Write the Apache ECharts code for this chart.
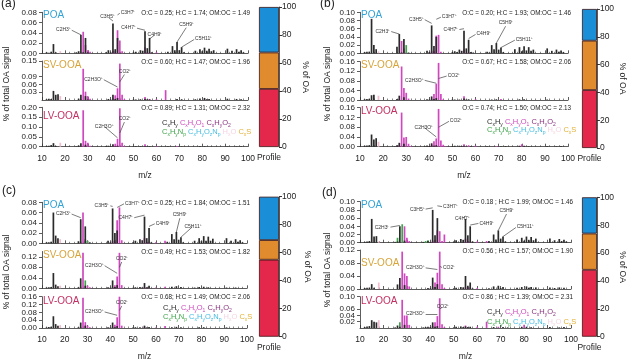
<!DOCTYPE html>
<html>
<head>
<meta charset="utf-8">
<script src="https://cdn.jsdelivr.net/npm/echarts@6/dist/echarts.min.js"></script>
<style>
  html, body { margin: 0; padding: 0; background: #fff; }
  #chart { width: 628px; height: 362px; }
</style>
</head>
<body>
<div id="chart"></div>
<script>
// spectra rows: [m/z, CxHy, CxHyO, CxHyNp, HxO]
const aPOA = [[12,.002,0,0,0],[13,.001,0,0,0],[14,.003,0,0,0],[15,.018,0,0,0],[16,.002,0,0,0],[18,0,0,0,.004],[25,.002,0,0,0],[26,.004,0,0,0],[27,.036,.002,0,0],[28,.002,.042,0,0],[29,.03,.016,0,0],[30,.002,.006,0,0],[31,0,.003,0,0],[38,.002,0,0,0],[39,.006,0,0,0],[40,.002,0,0,0],[41,.058,.005,0,0],[42,.008,.004,0,0],[43,.03,.045,0,0],[44,.001,.025,0,0],[45,0,.004,0,0],[50,.002,0,0,0],[51,.003,0,0,0],[53,.006,0,0,0],[54,.005,0,0,0],[55,.043,.012,0,0],[56,.01,.002,0,0],[57,.03,.003,0,0],[58,.002,0,0,0],[60,0,.002,0,0],[65,.003,0,0,0],[67,.014,0,0,0],[68,.006,0,0,0],[69,.022,0,0,0],[70,.006,0,0,0],[71,.012,0,0,0],[72,.002,0,0,0],[77,.005,0,0,0],[79,.008,0,0,0],[80,.004,0,0,0],[81,.011,0,0,0],[82,.005,0,0,0],[83,.009,0,0,0],[84,.004,0,0,0],[85,.006,0,0,0],[91,.009,0,0,0],[93,.005,0,0,0],[95,.008,0,0,0],[96,.003,0,0,0],[97,.006,0,0,0],[98,.002,0,0,0]];
const aSV = [[12,.003,0,0,0],[13,.005,0,0,0],[14,.004,0,0,0],[15,.035,0,0,0],[16,.02,0,0,0],[17,.022,0,0,0],[18,0,0,0,.015],[26,.005,0,0,0],[27,.02,.003,0,0],[28,0,.12,0,0],[29,.015,.032,0,0],[30,.002,.015,0,0],[31,0,.005,0,0],[39,.004,0,0,0],[40,.002,0,0,0],[41,.02,.006,0,0],[42,.004,.018,0,0],[43,.008,.045,0,0],[44,0,.14,0,0],[45,0,.02,0,0],[46,0,.003,0,0],[50,.002,0,0,0],[51,.002,0,0,0],[53,.003,0,0,0],[55,.005,.012,0,0],[56,.003,0,0,0],[57,.002,.004,0,0],[60,0,.003,0,0],[64,0,.038,0,0],[69,.004,0,0,0],[71,.003,0,0,0],[77,.003,0,0,0],[79,.006,0,0,0],[81,.008,.003,0,0],[82,.003,0,0,0],[83,.004,0,0,0],[91,.005,0,0,0],[95,.004,0,0,0],[97,.003,0,0,0]];
const aLV = [[12,.004,0,0,0],[13,.005,0,0,0],[14,.008,0,0,0],[15,.018,0,0,0],[16,.004,0,0,0],[18,0,0,0,.02],[25,.002,0,0,0],[26,.006,0,0,0],[27,.018,.004,0,0],[28,0,.185,0,0],[29,.01,.03,0,0],[30,0,.02,0,0],[31,0,.005,0,0],[38,.003,0,0,0],[39,.005,0,0,0],[40,.003,0,0,0],[41,.012,.005,0,0],[42,.003,.015,0,0],[43,.005,.04,0,0],[44,0,.195,0,0],[45,0,.02,0,0],[46,0,.003,0,0],[50,.002,0,0,0],[51,.003,0,0,0],[53,.003,0,0,0],[55,.003,.012,0,0],[56,.002,0,0,0],[57,.003,0,0,0],[60,0,.003,0,0],[65,.002,0,0,0],[69,0,.004,0,0],[71,.002,0,0,0],[79,.003,0,0,0],[81,.003,0,0,0],[91,.002,0,0,0],[95,.002,0,0,0],[97,.002,0,0,0]];

const bPOA = [[12,.003,0,0,0],[13,.004,0,0,0],[14,.004,0,0,0],[15,.084,0,0,0],[16,.02,0,0,0],[17,.01,0,0,0],[18,0,0,0,.004],[26,.016,0,0,0],[27,.047,0,0,0],[28,.002,.03,0,0],[29,.035,.012,0,0],[30,0,.002,.02,0],[31,.002,0,0,0],[39,.006,0,0,0],[40,.003,0,0,0],[41,.068,.005,0,0],[42,.018,.005,0,0],[43,.04,.043,0,0],[44,0,.045,0,0],[45,0,.004,0,0],[50,.003,0,0,0],[51,.005,0,0,0],[52,.003,0,0,0],[53,.009,0,0,0],[54,.006,0,0,0],[55,.055,.01,0,0],[56,.012,0,0,0],[57,.033,.003,0,0],[58,.003,0,0,0],[59,.002,0,0,0],[65,.004,0,0,0],[66,.002,0,0,0],[67,.02,0,0,0],[68,.01,0,0,0],[69,.025,0,0,0],[70,.009,0,0,0],[71,.014,0,0,0],[72,.003,0,0,0],[77,.01,0,0,0],[79,.015,0,0,0],[80,.005,0,0,0],[81,.017,0,0,0],[82,.007,0,0,0],[83,.015,0,0,0],[84,.006,0,0,0],[85,.009,0,0,0],[91,.012,0,0,0],[93,.006,0,0,0],[95,.009,0,0,0],[96,.004,0,0,0],[97,.007,0,0,0],[98,.003,0,0,0]];
const bSV = [[12,.003,0,0,0],[13,.004,0,0,0],[14,.005,0,0,0],[15,.02,0,0,0],[16,.022,0,0,0],[18,0,0,0,.018],[26,.004,0,0,0],[27,.018,.004,0,0],[28,0,.14,0,0],[29,.012,.05,0,0],[30,0,.03,0,0],[31,0,.006,0,0],[39,.003,0,0,0],[40,.002,0,0,0],[41,.015,.004,0,0],[42,.004,.025,0,0],[43,.008,.068,0,0],[44,0,.155,0,0],[45,0,.025,0,0],[46,0,.003,0,0],[50,.002,0,0,0],[51,.002,0,0,0],[53,.002,0,0,0],[55,.006,.016,0,0],[56,.002,0,0,0],[57,.003,0,0,0],[60,0,.003,0,0],[67,.002,0,0,0],[69,.003,0,0,0],[71,0,.004,0,0],[79,.003,0,0,0],[81,.003,0,0,0],[91,.002,0,0,0]];
const bLV = [[12,.004,0,0,0],[13,.005,0,0,0],[14,.006,0,0,0],[15,.05,0,0,0],[16,.03,0,0,0],[17,.035,0,0,0],[18,0,0,0,.02],[25,.002,0,0,0],[26,.006,0,0,0],[27,.016,.006,0,0],[28,0,.14,0,0],[29,.012,.038,0,0],[30,0,.04,0,0],[31,0,.012,0,0],[32,0,.003,0,0],[38,.002,0,0,0],[39,.005,0,0,0],[40,.003,0,0,0],[41,.014,.008,0,0],[42,.004,.022,0,0],[43,.006,.034,0,0],[44,0,.155,0,0],[45,0,.025,0,0],[46,0,.008,0,0],[47,0,.002,0,0],[50,.003,0,0,0],[51,.004,0,0,0],[53,.004,0,0,0],[54,.002,0,0,0],[55,.004,.01,0,0],[57,0,.006,0,0],[58,.002,0,0,0],[60,0,.004,0,0],[65,.002,0,0,0],[69,0,.003,0,0],[71,.002,0,0,0],[73,.003,0,0,0],[79,.004,0,0,0],[80,0,.01,0,0],[81,.004,0,0,0],[83,.002,0,0,0],[91,.003,0,0,0],[95,.002,0,0,0],[97,.003,0,0,0]];

const cPOA = [[12,.002,0,0,0],[13,.002,0,0,0],[14,.003,0,0,0],[15,.06,0,0,0],[16,.015,0,0,0],[17,.01,0,0,0],[18,0,0,0,.008],[26,.004,0,0,0],[27,.047,.003,0,0],[28,0,.06,0,0],[29,.033,.008,.004,0],[30,0,.004,.005,0],[31,.002,0,0,0],[39,.005,0,0,0],[40,.002,0,0,0],[41,.068,.004,0,0],[42,.02,.006,0,0],[43,.025,.045,0,0],[44,0,.07,0,0],[45,0,.006,0,0],[50,.002,0,0,0],[51,.005,0,0,0],[53,.008,0,0,0],[54,.006,0,0,0],[55,.052,.01,0,0],[56,.01,.002,0,0],[57,.03,.003,0,0],[58,.002,0,0,0],[60,0,.002,0,0],[64,0,.005,0,0],[65,.003,0,0,0],[67,.018,0,0,0],[68,.008,0,0,0],[69,.022,0,0,0],[70,.007,0,0,0],[71,.012,0,0,0],[72,.002,0,0,0],[77,.005,0,0,0],[79,.01,0,0,0],[80,.004,0,0,0],[81,.014,0,0,0],[82,.005,0,0,0],[83,.013,0,0,0],[84,.005,0,0,0],[85,.009,0,0,0],[91,.01,0,0,0],[93,.005,0,0,0],[95,.008,0,0,0],[96,.003,0,0,0],[97,.006,0,0,0],[98,.002,0,0,0]];
const cSV = [[12,.003,0,0,0],[13,.004,0,0,0],[14,.005,0,0,0],[15,.058,0,0,0],[16,.014,0,0,0],[17,.008,0,0,0],[18,0,0,0,.01],[26,.004,0,0,0],[27,.038,.004,0,0],[28,0,.135,0,0],[29,.01,0,.03,0],[30,0,.01,0,0],[31,0,.004,0,0],[39,.004,0,0,0],[40,.002,0,0,0],[41,.03,.005,0,0],[42,.005,.012,0,0],[43,.012,.045,0,0],[44,0,.135,0,0],[45,0,.012,0,0],[50,.002,0,0,0],[51,.004,0,0,0],[53,.005,0,0,0],[54,.003,0,0,0],[55,.02,.005,0,0],[56,.004,0,0,0],[57,.01,.004,0,0],[60,0,.003,0,0],[64,0,.006,0,0],[67,.006,0,0,0],[69,.008,0,0,0],[71,.005,0,0,0],[77,.003,0,0,0],[79,.005,0,0,0],[81,.006,0,0,0],[83,.004,0,0,0],[91,.003,0,0,0],[95,.003,0,0,0]];
const cLV = [[12,.003,0,0,0],[13,.005,0,0,0],[14,.006,0,0,0],[15,.06,0,0,0],[16,.02,0,0,0],[17,.012,0,0,0],[18,0,0,0,.015],[26,.004,0,0,0],[27,.028,.004,0,0],[28,0,.155,0,0],[29,.012,.03,0,0],[30,0,.012,0,0],[31,0,.004,0,0],[39,.004,0,0,0],[40,.002,0,0,0],[41,.028,.006,0,0],[42,.004,.016,0,0],[43,.01,.055,0,0],[44,0,.16,0,0],[45,0,.012,0,0],[50,.002,0,0,0],[51,.004,0,0,0],[53,.004,0,0,0],[55,.012,.006,0,0],[56,.003,0,0,0],[57,.005,0,0,0],[60,0,.003,0,0],[64,0,.01,0,0],[67,.004,0,0,0],[69,.006,0,0,0],[71,.004,0,0,0],[79,.004,0,0,0],[81,.004,0,0,0],[91,.003,0,0,0]];

const dPOA = [[12,.002,0,0,0],[13,.003,0,0,0],[14,.004,0,0,0],[15,.058,0,0,0],[16,.015,0,0,0],[17,.016,0,0,0],[18,0,0,0,.003],[25,.002,0,0,0],[26,.003,0,.012,0],[27,.04,.002,0,0],[28,0,0,.045,0],[29,.005,.04,0,0],[30,0,.012,0,0],[31,0,.004,0,0],[37,.002,0,0,0],[38,0,0,.004,0],[39,.004,0,.006,0],[40,.002,0,0,0],[41,.08,.005,0,0],[42,.018,.007,0,0],[43,.06,.03,0,0],[44,0,.028,0,0],[45,0,.004,0,0],[46,0,.02,0,0],[50,.003,0,0,0],[51,.006,0,0,0],[53,.009,0,0,0],[54,.007,0,0,0],[55,.058,.01,0,0],[56,.018,.002,0,0],[57,.04,.003,0,0],[58,.003,0,0,0],[60,0,.003,0,0],[64,0,.004,0,0],[65,.004,0,0,0],[67,.02,0,0,0],[68,.008,0,0,0],[69,.03,0,0,0],[70,.01,0,0,0],[71,.015,0,0,0],[72,.003,0,0,0],[77,.008,0,0,0],[79,.012,0,0,0],[80,.005,0,0,0],[81,.015,0,0,0],[82,.007,0,0,0],[83,.014,0,0,0],[84,.006,0,0,0],[85,.01,0,0,0],[91,.01,0,0,0],[93,.006,0,0,0],[95,.009,0,0,0],[96,.004,0,0,0],[97,.007,0,0,0],[98,.003,0,0,0]];
const dSV = [[12,.003,0,0,0],[13,.004,0,0,0],[14,.004,0,0,0],[15,.015,0,0,0],[16,.004,0,0,0],[18,0,0,0,.02],[26,.014,0,0,0],[27,.034,.004,0,0],[28,0,.115,0,0],[29,.012,.048,0,0],[30,0,.04,0,0],[31,0,.008,0,0],[39,.003,0,0,0],[40,.002,0,0,0],[41,.035,.005,0,0],[42,.006,.02,0,0],[43,.015,.05,0,0],[44,0,.115,0,0],[45,0,.015,0,0],[46,0,.003,0,0],[50,.002,0,0,0],[51,.004,0,0,0],[53,.006,0,0,0],[54,.005,0,0,0],[55,.04,.005,0,0],[56,.01,.005,0,0],[57,.02,.005,0,0],[58,.002,0,0,0],[60,0,.003,0,0],[65,.002,0,0,0],[67,.008,0,0,0],[69,.01,0,0,0],[70,.003,0,0,0],[71,.006,0,0,0],[77,.004,0,0,0],[79,.006,0,0,0],[81,.008,0,0,0],[82,.004,0,0,0],[83,.006,0,0,0],[85,.005,0,0,0],[91,.005,0,0,0],[93,.003,0,0,0],[95,.005,0,0,0],[97,.004,0,0,0]];
const dLV = [[12,.003,0,0,0],[13,.005,0,0,0],[14,.006,0,0,0],[15,.025,0,0,0],[16,.02,0,0,0],[17,.018,0,0,0],[18,0,0,0,.025],[25,.002,0,0,0],[26,.008,0,0,0],[27,.004,0,.018,0],[28,0,.09,0,0],[29,.01,.04,0,0],[30,0,.04,0,0],[31,0,.01,0,0],[37,.002,0,0,0],[38,.003,0,0,0],[39,.004,0,0,0],[40,.003,0,0,0],[41,.018,.006,0,0],[42,.004,.018,0,0],[43,.006,.038,0,0],[44,0,.095,0,0],[45,0,.012,0,0],[46,0,.003,0,0],[50,.002,0,0,0],[51,.004,0,0,0],[53,.005,0,0,0],[54,.003,0,0,0],[55,.005,.008,0,0],[56,.003,0,0,0],[57,.004,0,0,0],[60,0,.004,0,0],[64,0,.02,0,0],[67,.003,0,0,0],[69,0,.004,0,0],[71,.003,0,0,0],[73,.002,0,0,0],[79,.004,0,0,0],[80,0,.01,0,0],[81,.004,0,0,0],[83,.002,0,0,0],[91,.003,0,0,0],[95,.002,0,0,0],[97,.003,0,0,0]];

// y-axis range per factor (POA, SV-OOA, LV-OOA)
const aMax = [0.08, 0.15, 0.20], aStep = [0.02, 0.03, 0.05];
const bMax = [0.10, 0.16, 0.16], bStep = [0.02, 0.04, 0.04];
const cMax = [0.08, 0.14, 0.16], cStep = [0.02, 0.04, 0.04];
const dMax = [0.10, 0.12, 0.10], dStep = [0.02, 0.04, 0.02];

const aRatios = ['O:C = 0.25; H:C = 1.74; OM:OC = 1.49', 'O:C = 0.60; H:C = 1.47; OM:OC = 1.96', 'O:C = 0.89; H:C = 1.31; OM:OC = 2.32'];
const bRatios = ['O:C = 0.20; H:C = 1.93; OM:OC = 1.46', 'O:C = 0.67; H:C = 1.58; OM:OC = 2.06', 'O:C = 0.74; H:C = 1.50; OM:OC = 2.13'];
const cRatios = ['O:C = 0.25; H:C = 1.84; OM:OC = 1.51', 'O:C = 0.49; H:C = 1.53; OM:OC = 1.82', 'O:C = 0.68; H:C = 1.49; OM:OC = 2.06'];
const dRatios = ['O:C = 0.18 ; H:C = 1.99; OM:OC = 1.46', 'O:C = 0.56 ; H:C = 1.57; OM:OC = 1.90', 'O:C = 0.86 ; H:C = 1.39; OM:OC = 2.31'];

// % of OA, stacked from bottom: LV-OOA, SV-OOA, POA
const aProfile = [41.5, 26, 32.5];
const bProfile = [41.7, 35.5, 22.8];
const cProfile = [55, 14, 31];
const dProfile = [48, 26, 26];

// ion labels: [ion, m/z of bar, height at bar, m/z at label, height at label]
const aPoaIons = [['C2H3⁺',27,.036,23,.045],['C3H5⁺',41,.063,39,.07],['C3H7⁺',43,.075,44,.078],['C4H7⁺',55,.045,51.5,.049],['C4H9⁺',57,.028,59,.035],['C5H9⁺',69,.022,73,.05],['C5H11⁺',71,.012,76.5,.027]];
const aSvIons = [['C2H3O⁺',43,.05,37,.078],['CO2⁺',44,.07,46,.098]];
const aLvIons = [['C2H3O⁺',43,.045,37.5,.1],['CO2⁺',44,.07,46,.125]];
const bPoaIons = [['C2H3⁺',27,.047,23.5,.053],['C3H5⁺',41,.073,38,.082],['C3H7⁺',43,.083,45,.088],['C4H7⁺',55,.06,53,.058],['C4H9⁺',57,.036,60,.046],['C5H9⁺',69,.025,73,.066],['C5H11⁺',71,.014,77,.032]];
const bSvIons = [['C2H3O⁺',43,.07,38,.082],['CO2⁺',44,.09,47.5,.1]];
const bLvIons = [['C2H3O⁺',43,.04,38,.077],['CO2⁺',44,.08,48.5,.104]];
const cPoaIons = [['C2H3⁺',27,.05,23,.057],['C3H5⁺',41,.072,40,.073],['C3H7⁺',43,.07,46,.077],['C4H7⁺',55,.055,50.5,.05],['C4H9⁺',57,.033,59.5,.038],['C5H9⁺',69,.022,70.5,.049],['C5H11⁺',71,.012,76,.032]];
const cSvIons = [['C2H3O⁺',43,.057,37.5,.086],['CO2⁺',44,.08,45,.1]];
const cLvIons = [['C2H3O⁺',43,.065,37.5,.082],['CO2⁺',44,.09,45,.112]];
const dPoaIons = [['C2H3⁺',27,.042,23,.038],['C3H5⁺',41,.085,38,.082],['C3H7⁺',43,.09,45,.088],['C4H7⁺',55,.065,54,.06],['C4H9⁺',57,.043,60.5,.047],['C5H9⁺',69,.03,72.5,.07],['C5H11⁺',71,.015,76.5,.037]];
const dSvIons = [['C2H3O⁺',43,.06,38,.065],['CO2⁺',44,.07,45,.066]];
const dLvIons = [['C2H3O⁺',43,.044,38,.045],['CO2⁺',44,.06,45,.066]];

const factorNames = ['POA', 'SV-OOA', 'LV-OOA'];
const factorColors = ['#34a3d6', '#d8a43a', '#c42f63'];
const profileColors = ['#e4284b', '#e08b2d', '#1a8fd8'];
const FONT = 'Liberation Sans, Arial, Helvetica, sans-serif';

// stacking order bottom -> top: HxO, CxHyO, CxHyNp, CxHy
const families = [
  { col: 4, color: '#f2bdd0' },
  { col: 2, color: '#cf48be' },
  { col: 3, color: '#3ea54a' },
  { col: 1, color: '#2a2a2a' }
];

const panels = [
  { tag: '(a)', data: [aPOA, aSV, aLV], max: aMax, step: aStep, ratios: aRatios, profile: aProfile, ions: [aPoaIons, aSvIons, aLvIons] },
  { tag: '(b)', data: [bPOA, bSV, bLV], max: bMax, step: bStep, ratios: bRatios, profile: bProfile, ions: [bPoaIons, bSvIons, bLvIons] },
  { tag: '(c)', data: [cPOA, cSV, cLV], max: cMax, step: cStep, ratios: cRatios, profile: cProfile, ions: [cPoaIons, cSvIons, cLvIons] },
  { tag: '(d)', data: [dPOA, dSV, dLV], max: dMax, step: dStep, ratios: dRatios, profile: dProfile, ions: [dPoaIons, dSvIons, dLvIons] }
];

// pixel layout of each panel
const layout = [
  { x0: 42, x1: 248, rows: [[12.3, 53.3], [61, 100], [107.3, 146.7]], prof: [259, 7, 20, 140], tag: [1, 4], ylab: [7, 84], legend: [162, 123, 132], nameDy: [3, 4, 9], ratioX: 250, profGap: 22 },
  { x0: 360, x1: 568, rows: [[12.3, 53.3], [61.7, 100], [107.7, 146.7]], prof: [582, 9, 18, 139], tag: [320, 4], ylab: [328, 84], legend: [487, 122, 130], nameDy: [3, 4, 4], ratioX: 571, profGap: 20 },
  { x0: 42, x1: 247, rows: [[202.3, 243.3], [251.5, 288.3], [296.7, 335.7]], prof: [259, 196.7, 20, 140], tag: [2, 191], ylab: [7, 272], legend: [163, 308, 317], nameDy: [3, 4, 5], ratioX: 250, profGap: 24 },
  { x0: 360, x1: 571, rows: [[201.7, 242.7], [250, 289], [296.7, 336]], prof: [582, 197.3, 20, 139.4], tag: [322, 193], ylab: [328, 270], legend: [487, 312, 322], nameDy: [4, 13, 5], ratioX: 573, profGap: 18 }
];

function chem(parts) {
  return parts.map(function (p) {
    var f = p[0], k = p[1], out = '';
    for (var i = 0; i < f.length; i++) {
      if (f[i] === '_') { out += '{' + k + 's|' + f[i + 1] + '}'; i++; }
      else out += '{' + k + '|' + f[i] + '}';
    }
    return out;
  }).join('{k| }');
}
const legendColors = { k: '#2a2a2a', m: '#cf48be', p: '#8a3580', g: '#3ea54a', c: '#45bde0', w: '#f4d6e2', y: '#e2b23a' };
const rich = {};
Object.keys(legendColors).forEach(function (k) {
  rich[k] = { fill: legendColors[k], fontSize: 7.5, fontFamily: FONT, padding: [0, 0, 2, 0], verticalAlign: 'top' };
  rich[k + 's'] = { fill: legendColors[k], fontSize: 5, fontFamily: FONT, verticalAlign: 'bottom' };
});
const legendRow1 = chem([['C_xH_y', 'k'], ['C_xH_yO_1', 'm'], ['C_xH_yO_2', 'p']]);
const legendRow2 = chem([['C_xH_yN_p', 'g'], ['C_xH_yO_zN_p', 'c'], ['H_xO', 'w'], ['C_xS', 'y']]);

const grid = [], xAxis = [], yAxis = [], series = [], graphic = [];

panels.forEach(function (p, pi) {
  const L = layout[pi];
  p.data.forEach(function (rows, ri) {
    const gi = grid.length;
    const r = L.rows[ri];
    const last = ri === 2;
    grid.push({ left: L.x0, top: r[0], width: L.x1 - L.x0, height: r[1] - r[0] });
    xAxis.push({
      gridIndex: gi, type: 'value', min: 10, max: 100, interval: 10,
      axisLine: { lineStyle: { color: '#333', width: 0.8 } },
      axisTick: { inside: true, length: 3, lineStyle: { color: '#333', width: 0.8 } },
      minorTick: { show: true, splitNumber: 5, length: 1.5, lineStyle: { color: '#333', width: 0.6 } },
      axisLabel: { show: last, fontSize: 8.5, color: '#222', margin: 7, fontFamily: FONT },
      splitLine: { show: false },
      name: last ? 'm/z' : '', nameLocation: 'middle', nameGap: 24,
      nameTextStyle: { fontSize: 8.5, color: '#222', fontFamily: FONT }
    });
    const ticks = p.max[ri] / p.step[ri];
    yAxis.push({
      gridIndex: gi, type: 'value', min: 0, max: p.max[ri], interval: p.step[ri],
      axisLine: { show: true, lineStyle: { color: '#333', width: 0.8 } },
      axisTick: { show: true, length: 3, lineStyle: { color: '#333', width: 0.8 } },
      axisLabel: { fontSize: 8, color: '#222', margin: 5, fontFamily: FONT, showMaxLabel: Math.abs(ticks - Math.round(ticks)) < 1e-6, formatter: function (v) { return v.toFixed(2); } },
      splitLine: { show: false }
    });
    families.forEach(function (f, fi) {
      const s = {
        type: 'bar', xAxisIndex: gi, yAxisIndex: gi, stack: 'spec' + gi, barWidth: 1.7,
        clip: false, animation: false, silent: true,
        itemStyle: { color: f.color },
        data: rows.map(function (row) { return [row[0], row[f.col]]; })
      };
      if (fi === families.length - 1) {
        s.markLine = {
          silent: true, animation: false, symbol: ['none', 'none'],
          lineStyle: { color: '#444', width: 0.7, type: 'solid' },
          label: { show: true, position: 'end', formatter: '{b}', fontSize: 5, color: '#333', distance: 1, fontFamily: FONT },
          data: p.ions[ri].map(function (a) {
            return [{ coord: [a[1], a[2]], name: a[0] }, { coord: [a[3], a[4]], name: a[0] }];
          })
        };
      }
      series.push(s);
    });
    graphic.push({ type: 'text', x: L.x0 + 1, y: r[0] + L.nameDy[ri], silent: true,
      style: { text: factorNames[ri], fill: factorColors[ri], fontSize: 10, fontFamily: FONT, textAlign: 'left', align: 'left', textVerticalAlign: 'middle', verticalAlign: 'middle' } });
    graphic.push({ type: 'text', x: L.ratioX, y: r[0] + 1, silent: true,
      style: { text: p.ratios[ri], fill: '#222', fontSize: 6.3, fontFamily: FONT, textAlign: 'right', align: 'right', textVerticalAlign: 'middle', verticalAlign: 'middle' } });
  });

  // profile bar
  const g = grid.length, pr = L.prof;
  grid.push({ left: pr[0], top: pr[1], width: pr[2], height: pr[3] });
  xAxis.push({ gridIndex: g, type: 'category', data: ['Profile'], axisLine: { show: false }, axisTick: { show: false },
    axisLabel: { fontSize: 8.5, color: '#222', margin: 6, fontFamily: FONT } });
  yAxis.push({ gridIndex: g, type: 'value', position: 'right', min: 0, max: 100, interval: 20,
    axisLine: { show: true, lineStyle: { color: '#333', width: 0.8 } },
    axisTick: { show: true, length: 3, lineStyle: { color: '#333' } },
    axisLabel: { fontSize: 8.5, color: '#222', margin: 3, fontFamily: FONT },
    splitLine: { show: false },
    name: '% of OA', nameLocation: 'middle', nameRotate: -90, nameGap: L.profGap,
    nameTextStyle: { fontSize: 8.5, color: '#222', fontFamily: FONT } });
  p.profile.forEach(function (v, k) {
    series.push({ type: 'bar', xAxisIndex: g, yAxisIndex: g, stack: 'prof' + g, barWidth: '100%',
      animation: false, silent: true,
      itemStyle: { color: profileColors[k], borderColor: '#3a1414', borderWidth: 0.8 },
      data: [v] });
  });

  graphic.push({ type: 'text', x: L.tag[0], y: L.tag[1], silent: true,
    style: { text: p.tag, fill: '#222', fontSize: 12, fontFamily: FONT, textAlign: 'left', align: 'left', textVerticalAlign: 'middle', verticalAlign: 'middle' } });
  graphic.push({ type: 'text', x: L.ylab[0], y: L.ylab[1], rotation: Math.PI / 2, silent: true,
    style: { text: '% of total OA signal', fill: '#222', fontSize: 8.5, fontFamily: FONT, textAlign: 'center', align: 'center', textVerticalAlign: 'middle', verticalAlign: 'middle' } });
  graphic.push({ type: 'text', x: L.legend[0], y: L.legend[1] - 4.5, silent: true,
    style: { text: legendRow1, rich: rich, textAlign: 'left', align: 'left', textVerticalAlign: 'top', verticalAlign: 'top' } });
  graphic.push({ type: 'text', x: L.legend[0], y: L.legend[2] - 4.5, silent: true,
    style: { text: legendRow2, rich: rich, textAlign: 'left', align: 'left', textVerticalAlign: 'top', verticalAlign: 'top' } });
});

const chart = echarts.init(document.getElementById('chart'), null, { renderer: 'canvas' });
chart.setOption({
  animation: false,
  backgroundColor: '#fff',
  textStyle: { fontFamily: FONT },
  grid: grid, xAxis: xAxis, yAxis: yAxis, series: series, graphic: graphic
});
</script>
</body>
</html>
